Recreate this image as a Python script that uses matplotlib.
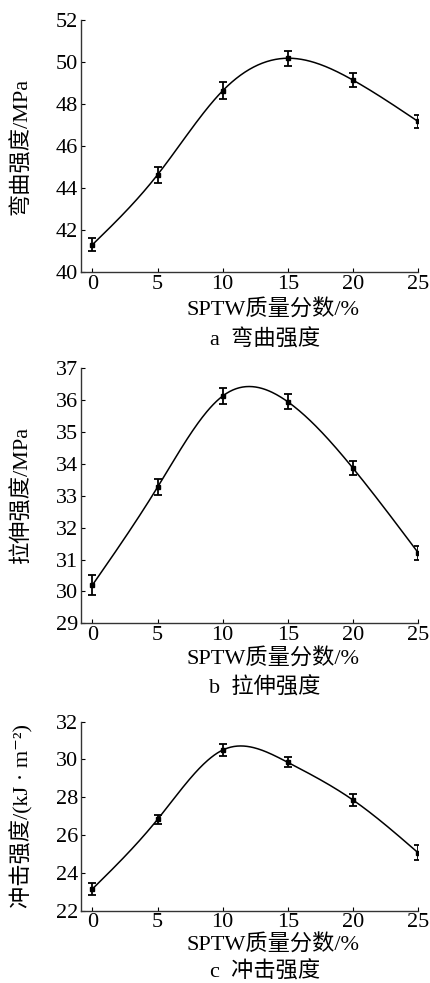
import numpy as np
import matplotlib
matplotlib.use("Agg")
import matplotlib.pyplot as plt

plt.rcParams['font.family'] = ['Liberation Serif', 'Noto Sans CJK SC', 'DejaVu Serif']

# SPTW mass fraction, %
sptw = [0, 5, 10, 15, 20, 25]

# a: flexural strength, MPa
flex = [41.3, 44.63, 48.63, 50.18, 49.14, 47.17]
flex_err = [0.3, 0.38, 0.41, 0.36, 0.32, 0.3]

# b: tensile strength, MPa
tens = [30.2, 33.27, 36.13, 35.95, 33.87, 31.22]
tens_err = [0.3, 0.26, 0.24, 0.24, 0.23, 0.22]

# c: impact strength, kJ/m2
impact = [23.15, 26.83, 30.5, 29.85, 27.86, 25.07]
impact_err = [0.31, 0.25, 0.31, 0.26, 0.33, 0.38]


def natural_spline(x, y, n=300):
    # plain natural cubic spline through the points
    x = np.asarray(x, float)
    y = np.asarray(y, float)
    k = len(x)
    h = np.diff(x)
    A = np.zeros((k, k))
    r = np.zeros(k)
    A[0, 0] = A[-1, -1] = 1
    for i in range(1, k - 1):
        A[i, i - 1] = h[i - 1]
        A[i, i] = 2 * (h[i - 1] + h[i])
        A[i, i + 1] = h[i]
        r[i] = 3 * ((y[i + 1] - y[i]) / h[i] - (y[i] - y[i - 1]) / h[i - 1])
    c = np.linalg.solve(A, r)
    xs = np.linspace(x[0], x[-1], n)
    ys = np.empty_like(xs)
    for j, xv in enumerate(xs):
        i = min(np.searchsorted(x, xv, side='right') - 1, k - 2)
        b = (y[i + 1] - y[i]) / h[i] - h[i] * (2 * c[i] + c[i + 1]) / 3
        d = (c[i + 1] - c[i]) / (3 * h[i])
        t = xv - x[i]
        ys[j] = y[i] + b * t + c[i] * t ** 2 + d * t ** 3
    return xs, ys


W, H = 430, 983
fig = plt.figure(figsize=(W / 100, H / 100), dpi=100)

panels = [
    # (top px, bottom px, values, errors, ylim, ticks, ylabel, caption, xlabel y, caption y)
    (20, 272, flex, flex_err, (40, 52), np.arange(40, 53, 2), '弯曲强度/MPa', 'a  弯曲强度', 310, 340),
    (368.3, 623.3, tens, tens_err, (29, 37), np.arange(29, 38, 1), '拉伸强度/MPa', 'b  拉伸强度', 659, 688),
    (721.7, 910.7, impact, impact_err, (22, 32), np.arange(22, 33, 2),
     '冲击强度/(kJ · m⁻²)', 'c  冲击强度', 945, 972),
]

left, right = 80.7, 418
for top, bot, vals, errs, ylim, yt, ylab, cap, xl_y, cap_y in panels:
    ax = fig.add_axes([left / W, 1 - bot / H, (right - left) / W, (bot - top) / H])
    xs, ys = natural_spline(sptw, vals)
    ax.plot(xs, ys, color='black', lw=1.1)
    ax.errorbar(sptw, vals, yerr=errs, fmt='s', ms=2.5, color='black',
                ecolor='black', elinewidth=1.3, capsize=3, capthick=1.3)
    ax.set_xlim(-0.9, 25)
    ax.set_ylim(*ylim)
    ax.set_xticks(sptw)
    ax.set_yticks(yt)
    ax.spines['top'].set_visible(False)
    ax.spines['right'].set_visible(False)
    for s in ('left', 'bottom'):
        ax.spines[s].set_linewidth(1.0)
        ax.spines[s].set_color('#333333')
    ax.tick_params(direction='in', length=3, width=0.8, labelsize=16, pad=2)
    fig.text(22 / W, 1 - (top + bot) / 2 / H, ylab, fontsize=16, rotation=90,
             ha='center', va='center')
    fig.text(273 / W, 1 - xl_y / H, 'SPTW质量分数/%', fontsize=16, ha='center', va='center')
    fig.text(265 / W, 1 - cap_y / H, cap, fontsize=16, ha='center', va='center')

fig.savefig('out.png', dpi=100)
